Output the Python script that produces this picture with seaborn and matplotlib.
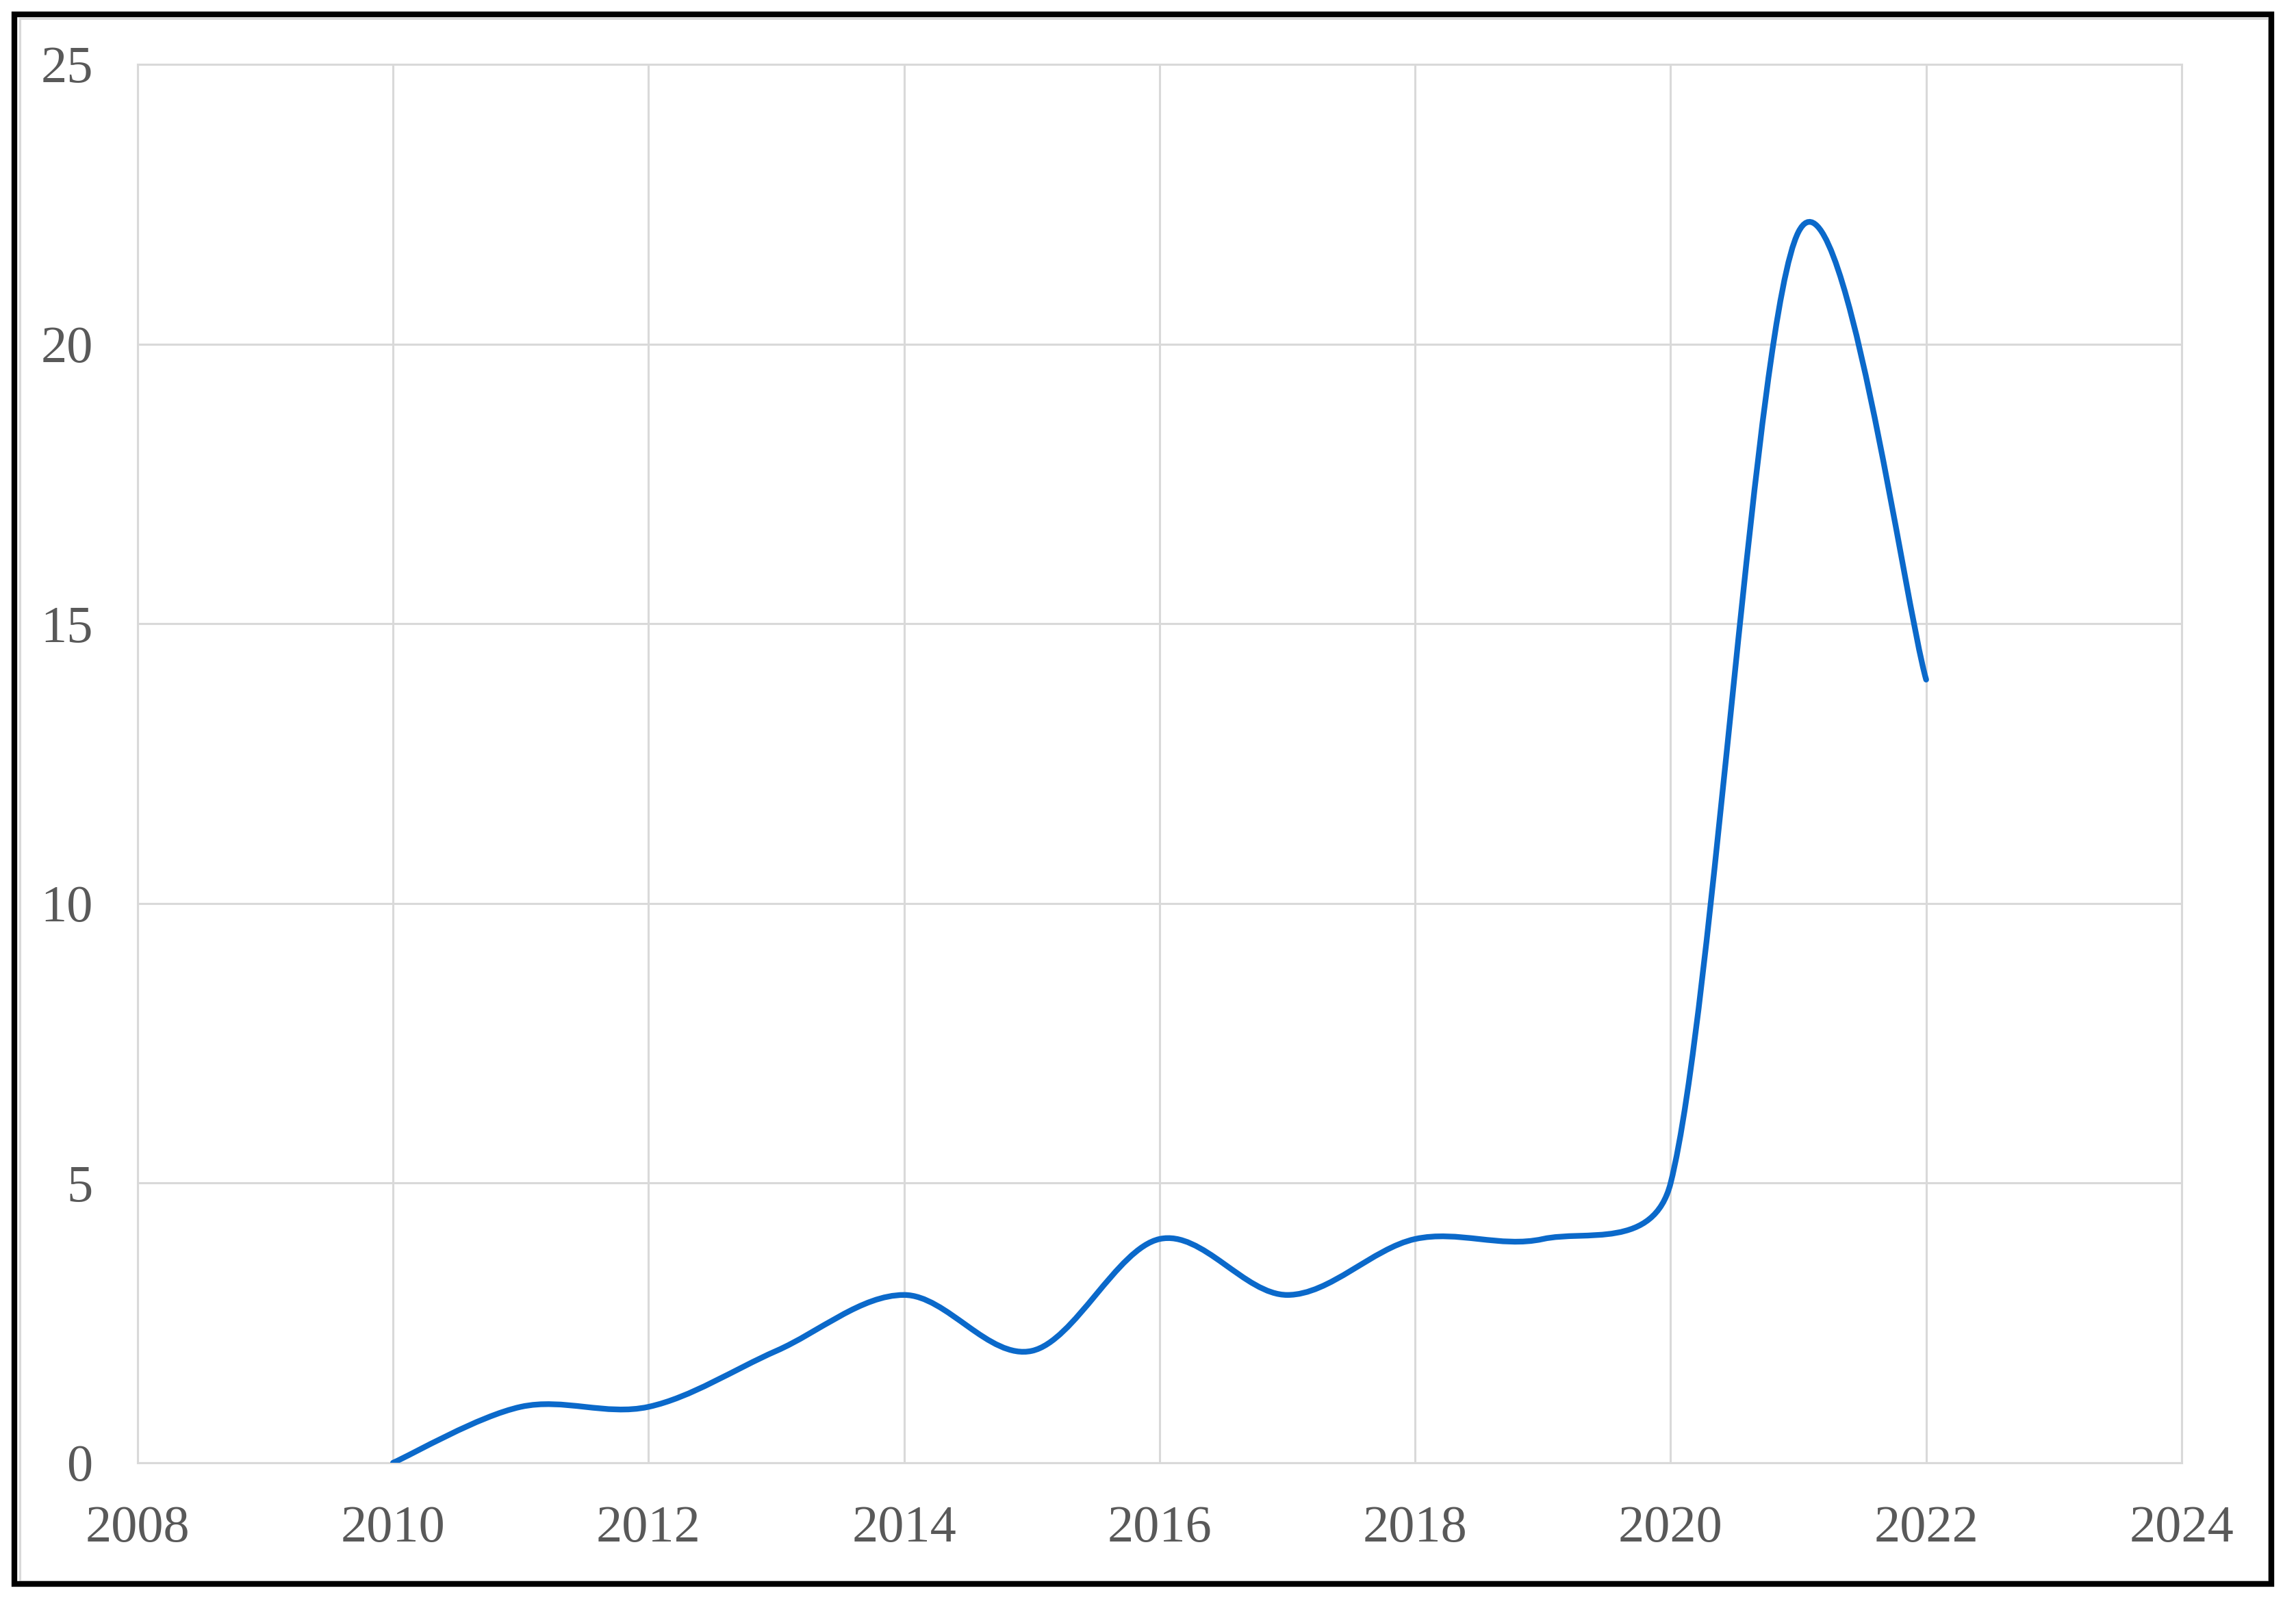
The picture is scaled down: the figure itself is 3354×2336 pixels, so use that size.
import numpy as np
import matplotlib
matplotlib.use("Agg")
import matplotlib.pyplot as plt
from matplotlib.path import Path
from matplotlib.patches import PathPatch, Rectangle
import seaborn as sns

# data (publications per year)
years = [2010, 2011, 2012, 2013, 2014, 2015, 2016, 2017, 2018, 2019, 2020, 2021, 2022]
counts = [0, 1, 1, 2, 3, 2, 4, 3, 4, 4, 5, 22, 14]
x_ticks = [2008, 2010, 2012, 2014, 2016, 2018, 2020, 2022, 2024]
y_ticks = [0, 5, 10, 15, 20, 25]

sns.set_theme(style="whitegrid")
plt.rcParams["font.family"] = ["Liberation Serif", "DejaVu Serif"]

GRID = "#d9d9d9"
TEXT = "#595959"
LINE = "#0b69ca"


def smooth_path(ax, xs, ys, f=1 / 6):
    """Excel-like smoothed line: Catmull-Rom style Bezier arms, capped at half a segment."""
    pts = ax.transData.transform(np.column_stack([xs, ys]))
    n = len(pts)
    verts = [pts[0]]
    codes = [Path.MOVETO]
    for i in range(n - 1):
        p0 = pts[max(i - 1, 0)]
        p1, p2 = pts[i], pts[i + 1]
        p3 = pts[min(i + 2, n - 1)]
        half = np.hypot(*(p2 - p1)) / 2
        arm_a = (p2 - p0) * f
        arm_b = (p3 - p1) * f
        la, lb = np.hypot(*arm_a), np.hypot(*arm_b)
        if la > half:
            arm_a = arm_a * half / la
        if lb > half:
            arm_b = arm_b * half / lb
        verts += [p1 + arm_a, p2 - arm_b, p2]
        codes += [Path.CURVE4] * 3
    verts = ax.transData.inverted().transform(np.array(verts))
    return Path(verts, codes)


fig = plt.figure(figsize=(33.54, 23.36), dpi=100)
ax = fig.add_axes([0.0599, 0.0852, 0.8903, 0.8746])
ax.set_xlim(2008, 2024)
ax.set_ylim(0, 25)
ax.set_xticks(x_ticks)
ax.set_yticks(y_ticks)
ax.grid(True, color=GRID, linewidth=2.2)
for sp in ax.spines.values():
    sp.set_color(GRID)
    sp.set_linewidth(2.2)
ax.tick_params(axis="both", length=0, labelsize=55, labelcolor=TEXT)
ax.tick_params(axis="y", pad=47)
ax.tick_params(axis="x", pad=45)
ax.set_facecolor("white")

ax.add_patch(PathPatch(smooth_path(ax, years, counts), fill=False,
                       edgecolor=LINE, linewidth=6, capstyle="round", zorder=3))

# chart-area border and outer black frame
fig.patches.append(Rectangle((0.0085, 0.0113), 0.9795, 0.977, transform=fig.transFigure,
                             fill=False, edgecolor="#d9d9d9", linewidth=2.2))
fig.patches.append(Rectangle((0.0064, 0.0094), 0.9829, 0.9816, transform=fig.transFigure,
                             fill=False, edgecolor="black", linewidth=6))

fig.savefig("out.png", dpi=100, facecolor="white")
